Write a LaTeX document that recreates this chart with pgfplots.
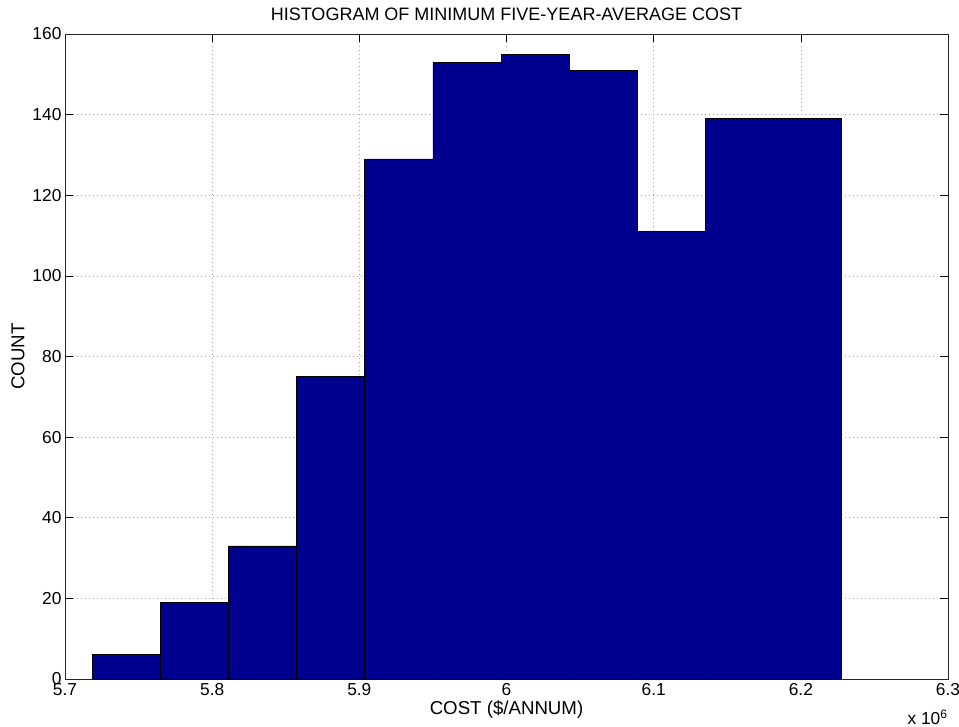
\documentclass[border=0pt]{standalone}
\usepackage{pgfplots}
\pgfplotsset{compat=1.18}
\usepackage{fontspec}
\setmainfont{Liberation Sans}
\definecolor{barblue}{RGB}{0,0,143}
\begin{document}
\fontsize{13}{15}\selectfont
\begin{tikzpicture}
\useasboundingbox (-48.75pt,-36pt) rectangle (670.5pt,509.25pt);
\begin{axis}[
  scale only axis, width=662.25pt, height=483.75pt,
  xmin=5.7, xmax=6.3, ymin=0, ymax=160,
  clip=false,
  xtick={5.7,5.8,5.9,6,6.1,6.2,6.3},
  ytick={0,20,40,60,80,100,120,140,160},
  grid=major,
  major grid style={gray!70, dash pattern=on 1pt off 2pt, line width=0.5pt},
  tick align=inside,
  major tick length=6pt,
  tick style={black, line width=0.5pt},
  axis line style={black!85, line width=0.6pt},
  /pgf/number format/assume math mode=true,
  tick label style={font=\fontsize{13}{15}\selectfont},
  xticklabel style={inner sep=2pt, yshift=-1pt},
  yticklabel style={inner sep=2.5pt},
  xlabel style={font=\fontsize{14}{16}\selectfont, yshift=2.5pt},
  ylabel style={font=\fontsize{14}{16}\selectfont, yshift=-1pt},
  title style={font=\fontsize{13.5}{15}\selectfont, yshift=-0.5pt},
  title={HISTOGRAM OF MINIMUM FIVE-YEAR-AVERAGE COST},
  xlabel={COST (\$/ANNUM)},
  ylabel={COUNT},
]
\addplot[ybar interval, fill=barblue, draw=black, line width=0.6pt] coordinates {
  (5.7185,6) (5.7648,19) (5.8111,33) (5.8574,75) (5.9037,129)
  (5.9500,153) (5.9963,155) (6.0425,151) (6.0888,111) (6.1351,139)
  (6.2277,139)
};
\node[anchor=base east, inner sep=0pt, yshift=-34pt,
  font=\fontsize{13}{15}\selectfont] at (rel axis cs:1,0) {x 10\textsuperscript{6}};
\end{axis}
\end{tikzpicture}
\end{document}
